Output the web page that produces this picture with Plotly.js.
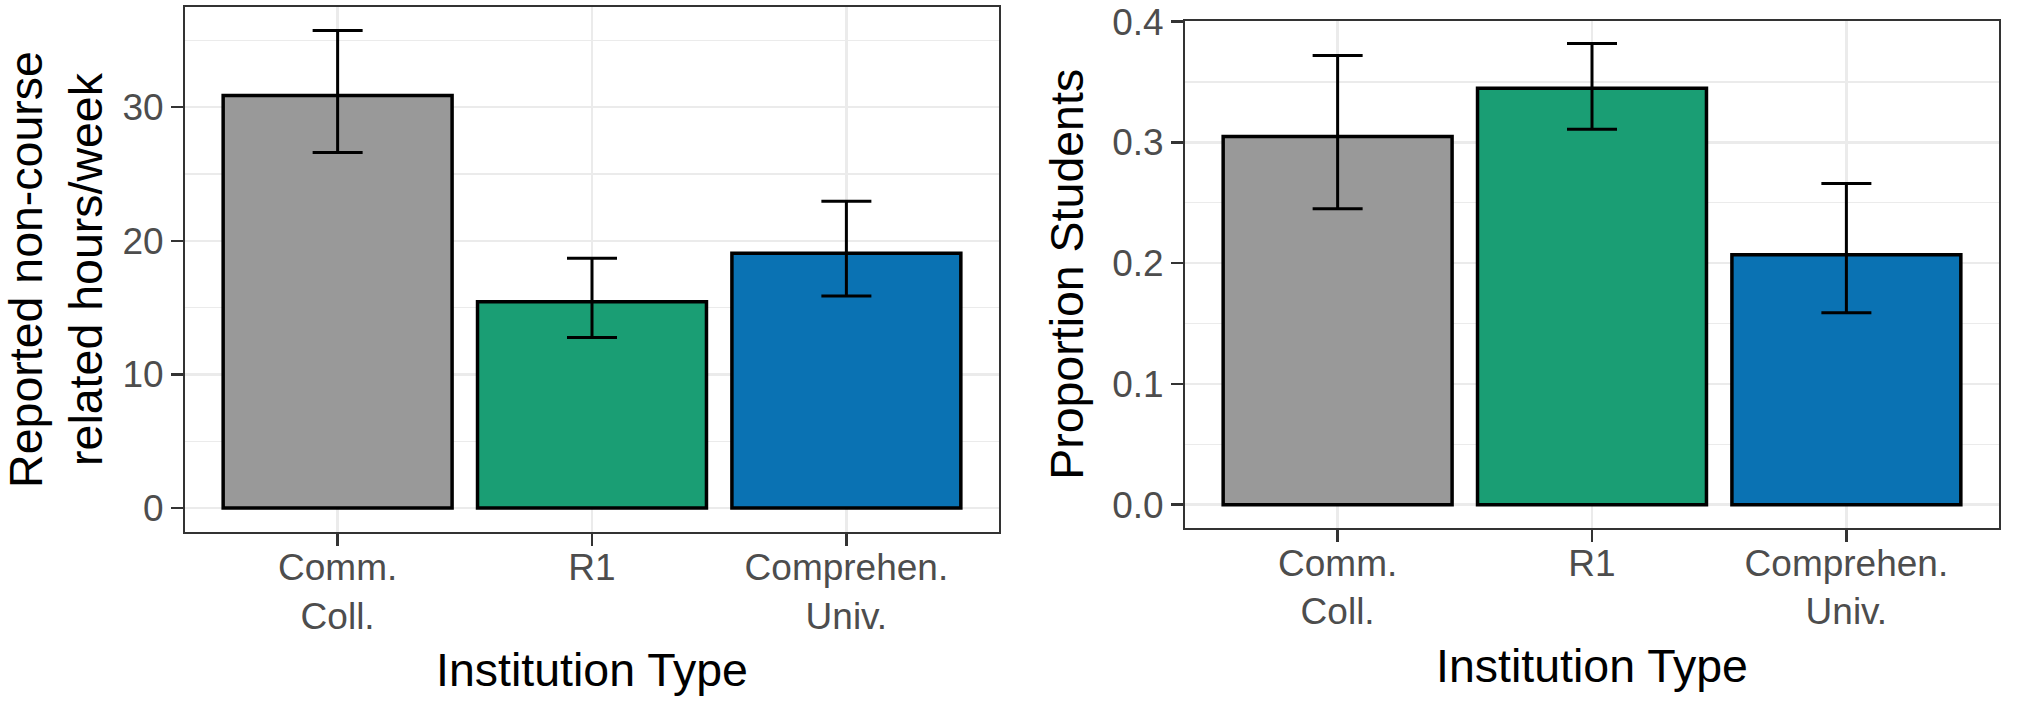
<!DOCTYPE html>
<html><head><meta charset="utf-8">
<script src="https://cdn.plot.ly/plotly-3.0.1.min.js"></script>
<style>html,body{margin:0;padding:0;background:#fff}#chart{width:2019px;height:707px}</style>
</head><body><div id="chart"></div>
<script>
const categories = ['Comm. Coll.', 'R1', 'Comprehen. Univ.'];
const tickLabels = ['Comm.<br>Coll.', 'R1', 'Comprehen.<br>Univ.'];
const barColors = ['#999999', '#1A9E74', '#0A72B3'];
const hoursMean = [30.87, 15.45, 19.07];
const hoursLower = [26.61, 12.76, 15.87];
const hoursUpper = [35.75, 18.70, 22.96];
const propMean = [0.305, 0.345, 0.207];
const propLower = [0.245, 0.311, 0.159];
const propUpper = [0.372, 0.382, 0.266];

const FONT = 'Liberation Sans, Arial, sans-serif';
const TICK = 37, TITLE = 46.5;

function bar(mean, lo, hi, xa, ya) {
  return {
    type: 'bar', x: categories, y: mean, xaxis: xa, yaxis: ya,
    marker: {color: barColors, line: {color: '#000000', width: 3.5}},
    error_y: {type: 'data', symmetric: false,
      array: hi.map((v, i) => v - mean[i]),
      arrayminus: lo.map((v, i) => mean[i] - v),
      color: '#000000', thickness: 3, width: 25},
    hoverinfo: 'skip', showlegend: false
  };
}

const common = {
  showline: true, mirror: true, linecolor: '#333333', linewidth: 2,
  ticks: 'outside', ticklen: 12, tickwidth: 2.5, tickcolor: '#333333',
  showgrid: true, gridcolor: '#EBEBEB', gridwidth: 2.5, zeroline: false,
  tickfont: {family: FONT, size: TICK, color: '#4D4D4D'}, automargin: false, fixedrange: true
};
function xax(domain, anchor) {
  return Object.assign({}, common, {
    domain: domain, anchor: anchor, type: 'category', range: [-0.6, 2.6],
    categoryorder: 'array', categoryarray: categories,
    tickmode: 'array', tickvals: categories, ticktext: tickLabels,
    ticklabelstandoff: -10,
    title: {text: 'Institution Type', font: {family: FONT, size: TITLE, color: '#000000'}, standoff: 18}
  });
}
function yax(domain, anchor, range, dtick, minor, fmt, title) {
  return Object.assign({}, common, {
    domain: domain, anchor: anchor, range: range, tick0: 0, dtick: dtick, tickformat: fmt,
    minor: {tick0: 0, dtick: minor, showgrid: true, gridcolor: '#EBEBEB', gridwidth: 1.3, ticks: ''},
    title: {text: title, font: {family: FONT, size: TITLE, color: '#000000'}, standoff: 14}
  });
}

const layout = {
  width: 2019, height: 707, margin: {l: 0, r: 0, t: 0, b: 0},
  paper_bgcolor: '#ffffff', plot_bgcolor: '#ffffff', bargap: 0.1,
  font: {family: FONT},
  xaxis: xax([185/2019, 999/2019], 'y'),
  yaxis: yax([1 - 532/707, 1 - 7/707], 'x', [-1.79, 37.5], 10, 5, 'd', 'Reported non-course<br>related hours/week'),
  xaxis2: xax([1185/2019, 1999/2019], 'y2'),
  yaxis2: yax([1 - 527.7/707, 1 - 21/707], 'x2', [-0.0191, 0.4006], 0.1, 0.05, '.1f', 'Proportion Students')
};

Plotly.newPlot('chart', [
  bar(hoursMean, hoursLower, hoursUpper, 'x', 'y'),
  bar(propMean, propLower, propUpper, 'x2', 'y2')
], layout, {displayModeBar: false, staticPlot: true});
</script></body></html>
